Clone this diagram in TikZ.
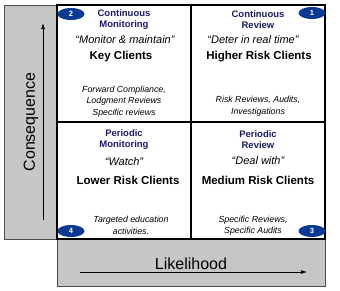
\documentclass[tikz,border=0pt]{standalone}
\usepackage{fontspec}
\setmainfont{Liberation Sans}
\usepackage{xcolor}
\usetikzlibrary{shapes.geometric, arrows.meta, positioning}

\definecolor{badgeblue}{HTML}{0B3A94}
\definecolor{headnavy}{HTML}{1C1C6B}
\definecolor{bargray}{HTML}{C6C6C6}

\begin{document}
\begin{tikzpicture}[
    x=1pt, y=-1pt,
    quad/.style={rectangle, draw=black, line width=1.4pt, minimum width=134pt, minimum height=117pt, inner sep=0pt},
    bar/.style={draw=black!70, fill=bargray, line width=0.8pt},
    head/.style={font=\fontsize{9.5}{11}\selectfont\bfseries, text=headnavy, align=center, inner sep=0pt},
    motto/.style={font=\fontsize{11}{12}\selectfont\itshape, inner sep=0pt},
    clients/.style={font=\fontsize{11.5}{13}\selectfont\bfseries, inner sep=0pt},
    note/.style={font=\fontsize{8.8}{11.5}\selectfont\itshape, align=center, inner sep=0pt},
    badge/.style={ellipse, fill=badgeblue, text=white, font=\fontsize{7.5}{8}\selectfont\bfseries, minimum width=27pt, minimum height=12pt, inner sep=0pt},
    axis/.style={font=\fontsize{16}{18}\selectfont, inner sep=0pt},
    arrow/.style={-{Latex[length=6pt, width=4pt]}, line width=0.7pt, black},
]
\useasboundingbox (0,0) rectangle (340,290);

% Gray axis bars
\filldraw[bar] (4,5) rectangle (57,239);
\filldraw[bar] (57,239) rectangle (325,286);

% Quadrants
\node[quad, fill=white] (tl) at (124,63.5) {};
\node[quad, fill=white] (tr) at (258,63.5) {};
\node[quad, fill=white] (bl) at (124,180.5) {};
\node[quad, fill=white] (br) at (258,180.5) {};

% Top left
\node[head] (tlhead) at (124,19.5) {Continuous\\Monitoring};
\node[motto] (tlmotto) at (125,40) {\textquotedblleft Monitor \& maintain\textquotedblright};
\node[clients] (tlclients) at (121,57) {Key Clients};
\node[note] (tlnote) at (124,101.5) {Forward Compliance,\\Lodgment Reviews\\Specific reviews};

% Top right
\node[head] (trhead) at (258,19.5) {Continuous\\Review};
\node[motto] (trmotto) at (253,40) {\textquotedblleft Deter in real time\textquotedblright};
\node[clients] (trclients) at (259,57) {Higher Risk Clients};
\node[note] (trnote) at (258,106) {Risk Reviews, Audits,\\Investigations};

% Bottom left
\node[head] (blhead) at (124,140) {Periodic\\Monitoring};
\node[motto] (blmotto) at (124,162) {\textquotedblleft Watch\textquotedblright};
\node[clients] (blclients) at (128,180) {Lower Risk Clients};
\node[note] (blnote) at (131,225.5) {Targeted education\\activities.};

% Bottom right
\node[head] (brhead) at (258,140) {Periodic\\Review};
\node[motto] (brmotto) at (258,161) {\textquotedblleft Deal with\textquotedblright};
\node[clients] (brclients) at (258,180) {Medium Risk Clients};
\node[note] (brnote) at (253,225.5) {Specific Reviews,\\Specific Audits};

% Badges
\node[badge] (b1) at (312,13) {1};
\node[badge] (b2) at (71,14) {2};
\node[badge] (b3) at (312,231) {3};
\node[badge] (b4) at (71,231) {4};

% Axes
\node[axis, rotate=90] (conseq) at (31,122) {Consequence};
\coordinate (cbot) at (43,220);
\coordinate (ctop) at (43,23);
\draw[arrow] (cbot) -- (ctop);

\node[axis] (likeli) at (191,264) {Likelihood};
\coordinate (lleft) at (80,272);
\coordinate (lright) at (307,272);
\draw[arrow] (lleft) -- (lright);

\end{tikzpicture}
\end{document}
